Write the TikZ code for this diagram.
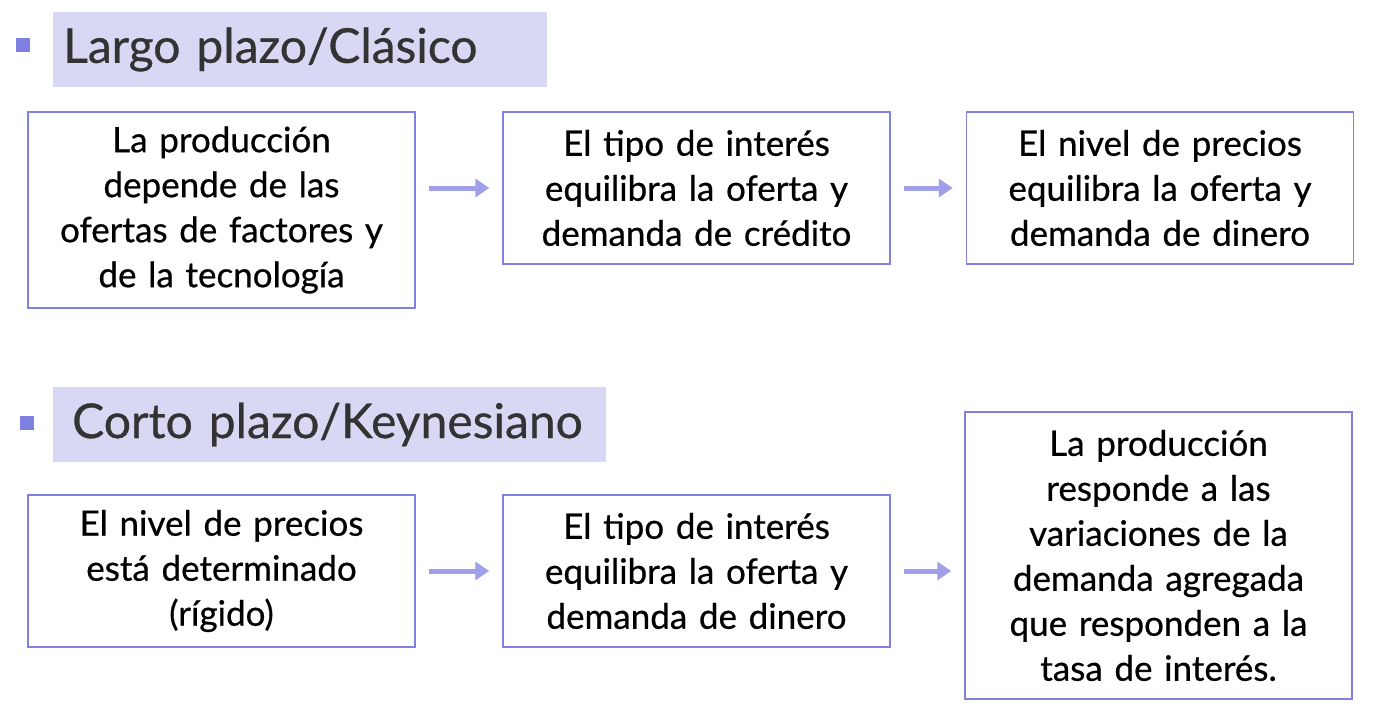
\documentclass[tikz,border=0pt]{standalone}
\usepackage{fontspec}
\setmainfont{Lato}
\usetikzlibrary{positioning,arrows.meta}
\definecolor{boxline}{RGB}{128,128,224}
\definecolor{headfill}{RGB}{216,216,244}
\definecolor{arrowcol}{RGB}{160,160,234}
\definecolor{headtext}{RGB}{51,51,51}
\tikzset{
  stage/.style={draw=boxline, line width=1.5pt, align=center, text width=380pt,
    minimum width=387pt, minimum height=152pt, inner sep=0pt,
    font=\fontsize{35}{45}\selectfont\addfontfeatures{FakeBold=0.6}},
  heading/.style={fill=headfill, anchor=west, inner sep=0pt, minimum height=75pt,
    align=left, text=headtext, font=\fontsize{48}{55}\selectfont\addfontfeatures{FakeBold=0.6}},
  bulletsq/.style={fill=boxline, minimum size=14pt, inner sep=0pt},
  flow/.style={draw=arrowcol, line width=5pt, -{Triangle[length=14pt,width=18pt]}}
}
\begin{document}
\begin{tikzpicture}[x=1pt, y=-1pt]
  \useasboundingbox (0,0) rectangle (1375,717);
  % long run
  \node [bulletsq] (b1) at (23,45) {};
  \node [heading, minimum width=494pt, text width=494pt] (h1) at (53,49.5) {\hspace*{10pt}Largo plazo/Clásico};
  \node [stage, minimum height=196pt] (a) at (221.5,210) {La producción\\depende de las\\ofertas de factores y\\de la tecnología};
  \node [stage] (b) at (696.5,188) {El tipo de interés\\equilibra la oferta y\\demanda de crédito};
  \node [stage, right=75pt of b] (c) {El nivel de precios\\equilibra la oferta y\\demanda de dinero};
  \draw [flow] ([xshift=13pt]a.east |- b.west) -- ([xshift=-13pt]b.west);
  \draw [flow] ([xshift=13pt]b.east) -- ([xshift=-13pt]c.west);
  % short run
  \node [bulletsq] (b2) at (27,423) {};
  \node [heading, minimum width=553pt, text width=553pt] (h2) at (53,424.5) {\hspace*{19pt}Corto plazo/Keynesiano};
  \node [stage] (d) at (221.5,571) {El nivel de precios\\está determinado\\(rígido)};
  \node [stage] (e) at (696.5,571) {El tipo de interés\\equilibra la oferta y\\demanda de dinero};
  \node [stage, minimum height=287pt] (f) at (1158.5,555.5) {La producción\\responde a las\\variaciones de la\\demanda agregada\\que responden a la\\tasa de interés.};
  \draw [flow] ([xshift=13pt]d.east) -- ([xshift=-13pt]e.west);
  \draw [flow] ([xshift=13pt]e.east) -- ([xshift=-13pt]f.west |- e.east);
\end{tikzpicture}
\end{document}
